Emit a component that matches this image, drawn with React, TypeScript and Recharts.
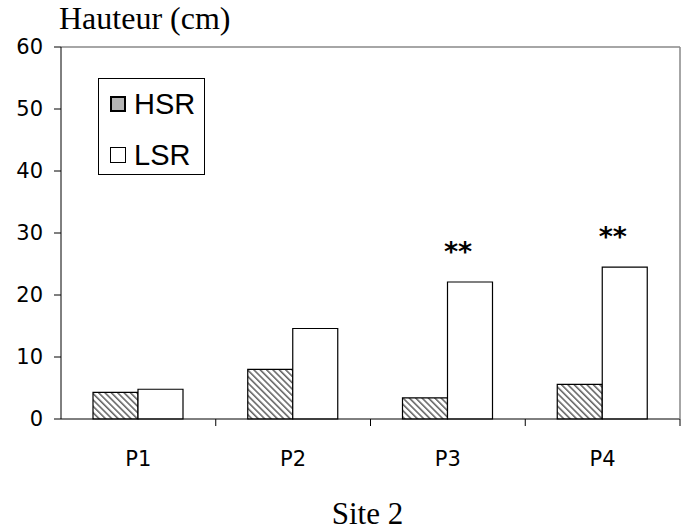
import { BarChart, Bar, XAxis, YAxis, Legend, LabelList, ReferenceLine, Label } from 'recharts';

const categories = ['P1', 'P2', 'P3', 'P4'];
const hsrValues = [4.3, 8.0, 3.4, 5.6];
const lsrValues = [4.8, 14.6, 22.1, 24.5];
const significance = ['', '', '**', '**'];
const yTicks = [0, 10, 20, 30, 40, 50, 60];

const data = categories.map((name, i) => ({
  name,
  HSR: hsrValues[i],
  LSR: lsrValues[i],
  sig: significance[i]
}));

const tickFont = "'DejaVu Sans', Verdana, sans-serif";
const serifFont = "'Liberation Serif', 'Times New Roman', serif";

const XTick = (props: any) => {
  const { x, y, payload } = props;
  const off = payload && payload.offset ? payload.offset : 77.4;
  return (
    <g>
      <line x1={x + off} x2={x + off} y1={y} y2={y + 7} stroke="#000" strokeWidth={1} />
      <text x={x} y={y + 47} textAnchor="middle" fill="#000" fontSize={21} fontFamily={tickFont}>
        {payload.value}
      </text>
    </g>
  );
};

const Stars = (props: any) => {
  const { x, y, width, value } = props;
  if (!value) return null;
  return (
    <text
      x={x + width / 2 - 12}
      y={y - 21}
      textAnchor="middle"
      fill="#000"
      fontSize={27}
      fontWeight="bold"
      fontFamily={tickFont}
    >
      {value}
    </text>
  );
};

const LegendBox = () => {
  const rows = [
    { name: 'HSR', fill: '#b5b5b5', border: 2 },
    { name: 'LSR', fill: '#fff', border: 1.5 }
  ];
  return (
    <div
      style={{
        position: 'relative',
        width: 107,
        height: 97,
        border: '1px solid #000',
        background: '#fff',
        boxSizing: 'border-box'
      }}
    >
      {rows.map((r, i) => (
        <div
          key={r.name}
          style={{
            position: 'absolute',
            left: 11,
            top: 5 + i * 51,
            height: 40,
            display: 'flex',
            alignItems: 'center'
          }}
        >
          <span
            style={{
              display: 'inline-block',
              width: 16,
              height: 16,
              boxSizing: 'border-box',
              border: `${r.border}px solid #000`,
              background: r.fill,
              marginRight: 8
            }}
          />
          <span style={{ fontFamily: "'Liberation Sans', Arial, sans-serif", fontSize: 29, color: '#000', lineHeight: '40px' }}>
            {r.name}
          </span>
        </div>
      ))}
    </div>
  );
};

export default function App() {
  return (
    <div style={{ position: 'absolute', left: 0, top: 0, width: 686, height: 532, background: '#fff' }}>
      <BarChart
        width={686}
        height={532}
        data={data}
        margin={{ top: 47, right: 0, bottom: 0, left: 0 }}
        barCategoryGap={32}
        barGap={0}
      >
        <defs>
          <pattern id="hatch" patternUnits="userSpaceOnUse" width="4.5" height="4.5" patternTransform="rotate(45)">
            <rect width="4.5" height="4.5" fill="#fff" />
            <line x1="0" y1="1" x2="4.5" y2="1" stroke="#444" strokeWidth="1.3" />
          </pattern>
        </defs>
        <XAxis
          dataKey="name"
          height={113}
          tickSize={0}
          tickMargin={0}
          tickLine={false}
          axisLine={{ stroke: '#000', strokeWidth: 1 }}
          tick={<XTick />}
          interval={0}
        >
          <Label
            content={(p: any) => {
              const vb = p.viewBox;
              return (
                <text x={vb.x + vb.width / 2 - 3} y={vb.y + 105} textAnchor="middle" fill="#000" fontSize={31} fontFamily={serifFont}>
                  Site 2
                </text>
              );
            }}
          />
        </XAxis>
        <YAxis
          yAxisId="left"
          width={61}
          domain={[0, 60]}
          ticks={yTicks}
          interval={0}
          tickSize={7}
          tickMargin={11}
          axisLine={{ stroke: '#000', strokeWidth: 1 }}
          tickLine={{ stroke: '#000', strokeWidth: 1 }}
          tick={{ fill: '#000', fontSize: 21, fontFamily: tickFont }}
        >
          <Label
            content={(p: any) => {
              const vb = p.viewBox;
              return (
                <text x={vb.x + 59} y={vb.y - 18} textAnchor="start" fill="#000" fontSize={32} fontFamily={serifFont}>
                  Hauteur (cm)
                </text>
              );
            }}
          />
        </YAxis>
        <YAxis
          yAxisId="right"
          orientation="right"
          width={6}
          tick={false}
          tickLine={false}
          axisLine={{ stroke: '#888', strokeWidth: 1.5 }}
        />
        <ReferenceLine yAxisId="left" y={60} stroke="#888" strokeWidth={1.5} />
        <Legend
          layout="vertical"
          align="center"
          verticalAlign="middle"
          wrapperStyle={{ left: 98, top: 78, width: 107 }}
          content={() => <LegendBox />}
        />
        <Bar yAxisId="left" dataKey="HSR" fill="url(#hatch)" stroke="#000" strokeWidth={1.2} isAnimationActive={false} />
        <Bar yAxisId="left" dataKey="LSR" fill="#fff" stroke="#000" strokeWidth={1.2} isAnimationActive={false}>
          <LabelList dataKey="sig" content={<Stars />} />
        </Bar>
      </BarChart>
    </div>
  );
}
